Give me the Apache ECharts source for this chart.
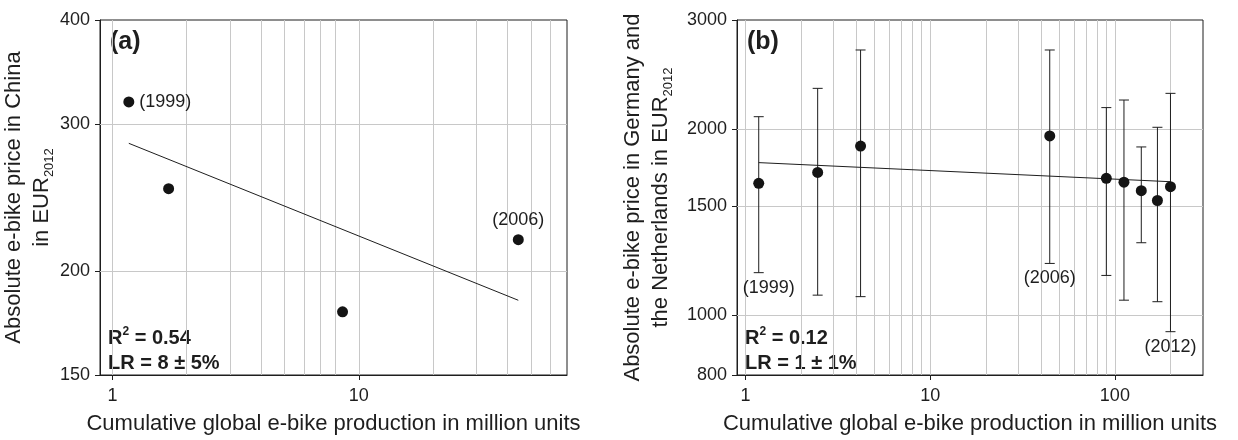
<!DOCTYPE html>
<html lang="en">

<head>
    <meta charset="UTF-8">
    <title>E-bike price vs cumulative production</title>
    <style>
        html, body { margin: 0; padding: 0; background: #fff; }
    </style>
</head>

<body>
    <div id="main" style="width: 1238px; height: 440px;"></div>

    <script src="https://cdn.jsdelivr.net/npm/echarts@6/dist/echarts.min.js"></script>
    <script>
        // ---- (a) China ----
        var chinaX = [1.165, 1.69, 8.59, 44.4];
        var chinaPrice = [319, 251, 178.6, 218];
        var chinaYears = ['(1999)', '', '', '(2006)'];
        var chinaFitX = [1.165, 44.4];
        var chinaFitY = [284.5, 184.4];
        var chinaXTicks = [1, 10];
        var chinaYTicks = [150, 200, 300, 400];
        var chinaXGrid = [1, 2, 3, 4, 5, 6, 7, 8, 10, 20, 30, 40, 50, 60];

        // ---- (b) Germany + Netherlands ----
        var euroX = [1.18, 2.46, 4.2, 44.4, 89.9, 112, 139, 170, 200];
        var euroPrice = [1633, 1701, 1876, 1948, 1664, 1640, 1589, 1532, 1613];
        var euroLow = [1171, 1077, 1071, 1212, 1159, 1057, 1309, 1051, 940];
        var euroHigh = [2093, 2326, 2683, 2683, 2165, 2227, 1870, 2012, 2283];
        var euroYears = ['(1999)', '', '', '(2006)', '', '', '', '', '(2012)'];
        var euroFitX = [1.18, 200];
        var euroFitY = [1764, 1643];
        var euroXTicks = [1, 10, 100];
        var euroYTicks = [800, 1000, 1500, 2000, 3000];
        var euroXGrid = [1, 2, 3, 4, 5, 6, 7, 8, 9, 10, 20, 30, 40, 50, 60, 70, 80, 90, 100, 200];

        var FONT = '"Liberation Sans", Arial, sans-serif';
        var INK = '#1e1e1e';
        var GRID = '#c8c8c8';

        var myChart = echarts.init(document.getElementById('main'));

        function plain(v) { return String(Math.round(v)); }

        function xAxisOf(gridIndex, min, max, ticks) {
            return {
                gridIndex: gridIndex,
                type: 'log',
                logBase: 10,
                min: min,
                max: max,
                name: 'Cumulative global e-bike production in million units',
                nameLocation: 'middle',
                nameGap: 38,
                nameTextStyle: { fontSize: 22, color: INK, fontFamily: FONT },
                axisLine: { show: true, lineStyle: { color: INK, width: 1 } },
                axisTick: { show: true, inside: false, length: 5, customValues: ticks, lineStyle: { color: INK } },
                axisLabel: { customValues: ticks, fontSize: 18, color: INK, fontFamily: FONT, margin: 12, formatter: plain },
                splitLine: { show: false }
            };
        }

        function yAxisOf(gridIndex, ticks, name, gap) {
            return {
                gridIndex: gridIndex,
                type: 'log',
                logBase: 10,
                min: ticks[0],
                max: ticks[ticks.length - 1],
                name: name,
                nameLocation: 'middle',
                nameRotate: 90,
                nameGap: gap,
                nameTextStyle: {
                    fontSize: 22, color: INK, fontFamily: FONT, lineHeight: 28,
                    rich: { sub: { fontSize: 13, fontFamily: FONT, color: INK, verticalAlign: 'bottom' } }
                },
                axisLine: { show: true, lineStyle: { color: INK, width: 1 } },
                axisTick: { show: true, inside: false, length: 5, customValues: ticks, lineStyle: { color: INK } },
                axisLabel: { customValues: ticks, fontSize: 18, color: INK, fontFamily: FONT, margin: 10, formatter: plain },
                splitLine: { show: false }
            };
        }

        // gridlines as markLines on an empty series, kept under the marks
        function gridSeries(idx, xs, ys) {
            var lines = xs.map(function (v) { return { xAxis: v }; })
                .concat(ys.map(function (v) { return { yAxis: v }; }));
            return {
                type: 'line', xAxisIndex: idx, yAxisIndex: idx, data: [], z: 1, silent: true,
                markLine: {
                    z: 1, silent: true, symbol: ['none', 'none'], label: { show: false },
                    lineStyle: { color: GRID, type: 'solid', width: 1 },
                    emphasis: { disabled: true },
                    data: lines
                }
            };
        }

        function fitSeries(idx, xs, ys) {
            return {
                type: 'line', xAxisIndex: idx, yAxisIndex: idx, symbol: 'none', z: 3,
                lineStyle: { color: INK, width: 1 },
                data: xs.map(function (x, i) { return [x, ys[i]]; })
            };
        }

        var labelStyle = { fontSize: 18, color: INK, fontFamily: FONT };

        var option = {
            animation: false,
            backgroundColor: '#fff',
            grid: [
                { left: 100, top: 20, width: 467, height: 355, show: true, borderColor: INK, borderWidth: 1, outerBoundsMode: 'none' },
                { left: 737, top: 20, width: 466, height: 355, show: true, borderColor: INK, borderWidth: 1, outerBoundsMode: 'none' }
            ],
            xAxis: [
                xAxisOf(0, 0.89, 70, chinaXTicks),
                xAxisOf(1, 0.9, 300, euroXTicks)
            ],
            yAxis: [
                yAxisOf(0, chinaYTicks, 'Absolute e-bike price in China\nin EUR{sub|2012}', 39),
                yAxisOf(1, euroYTicks, 'Absolute e-bike price in Germany and\nthe Netherlands in EUR{sub|2012}', 62)
            ],
            graphic: [
                { type: 'text', left: 110, top: 30, style: { text: '(a)', font: 'bold 25px ' + FONT, fill: INK } },
                { type: 'text', left: 747, top: 30, style: { text: '(b)', font: 'bold 25px ' + FONT, fill: INK } },
                {
                    type: 'text', left: 108, top: 326,
                    style: {
                        text: '{b|R}{sup|2}{b| = 0.54}\n{b|LR = 8 ± 5%}',
                        rich: {
                            b: { font: 'bold 20px ' + FONT, fill: INK, lineHeight: 25 },
                            sup: { font: 'bold 12px ' + FONT, fill: INK, verticalAlign: 'top', lineHeight: 25 }
                        }
                    }
                },
                {
                    type: 'text', left: 745, top: 326,
                    style: {
                        text: '{b|R}{sup|2}{b| = 0.12}\n{b|LR = 1 ± 1%}',
                        rich: {
                            b: { font: 'bold 20px ' + FONT, fill: INK, lineHeight: 25 },
                            sup: { font: 'bold 12px ' + FONT, fill: INK, verticalAlign: 'top', lineHeight: 25 }
                        }
                    }
                }
            ],
            series: [
                gridSeries(0, chinaXGrid, chinaYTicks.slice(1, -1)),
                gridSeries(1, euroXGrid, euroYTicks.slice(1, -1)),
                fitSeries(0, chinaFitX, chinaFitY),
                fitSeries(1, euroFitX, euroFitY),
                {
                    // error bars for panel (b)
                    type: 'custom', xAxisIndex: 1, yAxisIndex: 1, z: 3,
                    encode: { x: 0, y: [1, 2] },
                    data: euroX.map(function (x, i) { return [x, euroLow[i], euroHigh[i]]; }),
                    renderItem: function (params, api) {
                        var top = api.coord([api.value(0), api.value(2)]);
                        var bot = api.coord([api.value(0), api.value(1)]);
                        var w = 5;
                        var st = { stroke: INK, lineWidth: 1 };
                        return {
                            type: 'group',
                            children: [
                                { type: 'line', shape: { x1: top[0], y1: top[1], x2: bot[0], y2: bot[1] }, style: st },
                                { type: 'line', shape: { x1: top[0] - w, y1: top[1], x2: top[0] + w, y2: top[1] }, style: st },
                                { type: 'line', shape: { x1: bot[0] - w, y1: bot[1], x2: bot[0] + w, y2: bot[1] }, style: st }
                            ]
                        };
                    }
                },
                {
                    type: 'scatter', xAxisIndex: 0, yAxisIndex: 0, z: 4,
                    symbol: 'circle', symbolSize: 11,
                    itemStyle: { color: '#141414', opacity: 1 },
                    data: chinaX.map(function (x, i) {
                        return {
                            value: [x, chinaPrice[i]],
                            label: {
                                show: chinaYears[i] !== '',
                                formatter: chinaYears[i],
                                position: i === 0 ? 'right' : 'top',
                                distance: 5
                            }
                        };
                    }),
                    label: labelStyle
                },
                {
                    type: 'scatter', xAxisIndex: 1, yAxisIndex: 1, z: 4,
                    symbol: 'circle', symbolSize: 11,
                    itemStyle: { color: '#141414', opacity: 1 },
                    data: euroX.map(function (x, i) { return [x, euroPrice[i]]; })
                },
                {
                    // year tags under the error bars of panel (b)
                    type: 'scatter', xAxisIndex: 1, yAxisIndex: 1, z: 4, silent: true,
                    symbolSize: 0,
                    itemStyle: { opacity: 1 },
                    data: euroX.map(function (x, i) {
                        return {
                            value: [x, euroLow[i]],
                            label: {
                                show: euroYears[i] !== '',
                                formatter: euroYears[i],
                                position: 'bottom',
                                distance: 6,
                                offset: [i === 0 ? 10 : 0, 0]
                            }
                        };
                    }),
                    label: labelStyle
                }
            ]
        };
        myChart.setOption(option);
    </script>
</body>

</html>
